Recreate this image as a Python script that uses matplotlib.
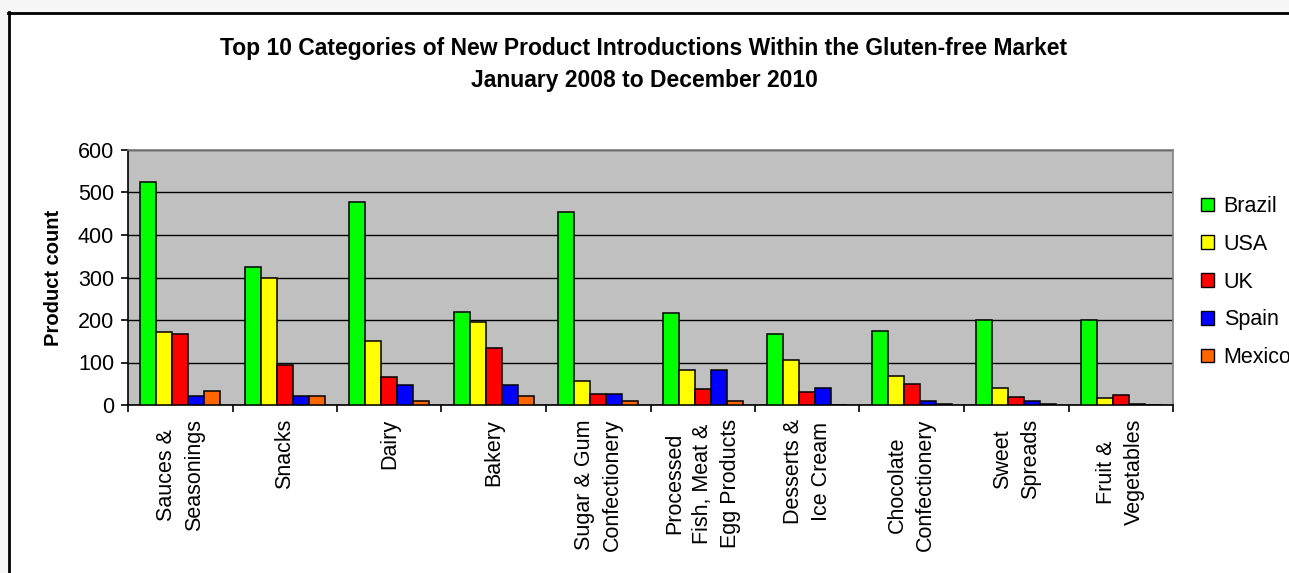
import matplotlib
matplotlib.use("Agg")
import matplotlib.pyplot as plt
import numpy as np
from matplotlib.patches import Rectangle
from matplotlib.lines import Line2D

plt.rcParams['font.family'] = ['Liberation Sans', 'DejaVu Sans']

categories = [
    "Sauces &\nSeasonings",
    "Snacks",
    "Dairy",
    "Bakery",
    "Sugar & Gum\nConfectionery",
    "Processed\nFish, Meat &\nEgg Products",
    "Desserts &\nIce Cream",
    "Chocolate\nConfectionery",
    "Sweet\nSpreads",
    "Fruit &\nVegetables",
]

countries = ["Brazil", "USA", "UK", "Spain", "Mexico"]
brazil = [524, 324, 478, 220, 455, 216, 168, 173, 200, 200]
usa = [172, 300, 150, 196, 57, 83, 107, 69, 41, 17]
uk = [168, 94, 65, 135, 27, 37, 31, 50, 18, 23]
spain = [22, 22, 46, 46, 27, 83, 41, 9, 9, 3]
mexico = [33, 22, 9, 22, 9, 9, 0, 3, 3, 0]
series = [brazil, usa, uk, spain, mexico]
colors = ["#00FF00", "#FFFF00", "#FF0000", "#0000FF", "#FF6600"]

y_ticks = [0, 100, 200, 300, 400, 500, 600]

W, H = 1289, 573
fig = plt.figure(figsize=(W / 100, H / 100), dpi=100)
fig.patch.set_facecolor("#F7F7F7")

# white chart frame with a black border on the left and top
fig.patches.append(Rectangle((9 / W, 0), 1, 1 - 13 / H, transform=fig.transFigure,
                             facecolor="white", edgecolor="none", zorder=-10))
fig.lines.append(Line2D([9 / W, 9 / W], [0, 1 - 12 / H], transform=fig.transFigure,
                        color="black", lw=2, zorder=-5))
fig.lines.append(Line2D([8 / W, 1], [1 - 13 / H, 1 - 13 / H], transform=fig.transFigure,
                        color="black", lw=2, zorder=-5))

ax = fig.add_axes([128 / W, 1 - 405 / H, (1173 - 128) / W, (405 - 150) / H])
ax.set_zorder(5)
ax.set_facecolor("#C0C0C0")

x = np.arange(len(categories))
bw = 0.153
for k, (vals, col, name) in enumerate(zip(series, colors, countries)):
    ax.bar(x + (k - 2) * bw, vals, width=bw, color=col, edgecolor="black",
           linewidth=1.1, label=name, zorder=3)

ax.set_xlim(-0.5, len(categories) - 0.5)
ax.set_ylim(0, 600)
ax.set_yticks(y_ticks)
ax.set_yticklabels([str(v) for v in y_ticks], fontsize=15.5)
ax.yaxis.grid(True, color="black", linewidth=1.0, zorder=1)
ax.set_axisbelow(True)

ax.set_xticks(x)
ax.set_xticklabels(categories, rotation=90, fontsize=15.5, multialignment="center",
                   linespacing=1.45)
ax.tick_params(axis="x", which="major", length=0, pad=10)
ax.set_xticks(np.arange(len(categories) + 1) - 0.5, minor=True)
ax.tick_params(axis="x", which="minor", length=5, width=1.2, direction="out")
ax.tick_params(axis="y", length=5, width=1.2, direction="out", pad=5)

for side in ("left", "bottom"):
    ax.spines[side].set_color("black")
    ax.spines[side].set_linewidth(1.2)
for side in ("top", "right"):
    ax.spines[side].set_color("#808080")
    ax.spines[side].set_linewidth(1.2)

ax.set_ylabel("Product count", fontsize=14.5, fontweight="bold", labelpad=11)

fig.text(644 / W, 1 - 48 / H,
         "Top 10 Categories of New Product Introductions Within the Gluten-free Market",
         ha="center", va="center", fontsize=16.5, fontweight="bold")
fig.text(644 / W, 1 - 81 / H, "January 2008 to December 2010",
         ha="center", va="center", fontsize=16.5, fontweight="bold")

leg = ax.legend(loc="upper left", bbox_to_anchor=(1201 / W, 1 - 196 / H),
                bbox_transform=fig.transFigure, frameon=False, fontsize=15.5,
                handlelength=0.6, handleheight=0.6, handletextpad=0.45,
                labelspacing=0.78, borderpad=0, borderaxespad=0)
for h in leg.legend_handles:
    h.set_linewidth(1.0)

fig.savefig("out.png", dpi=100, facecolor=fig.get_facecolor())
